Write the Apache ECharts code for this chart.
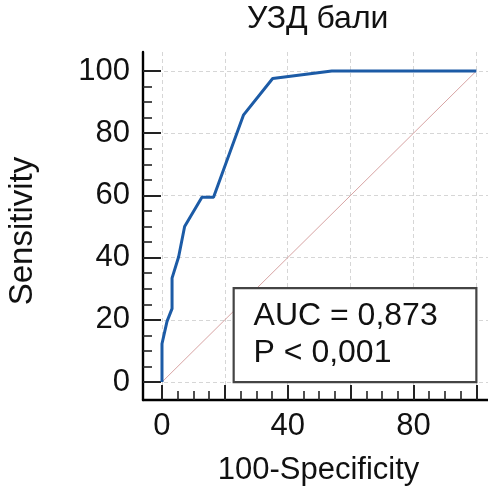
<!DOCTYPE html>
<html>
<head>
<meta charset="utf-8">
<script src="https://cdn.jsdelivr.net/npm/echarts@6/dist/echarts.min.js"></script>
<style>
  html, body { margin: 0; padding: 0; background: #ffffff; }
  #chart { width: 488px; height: 493px; }
</style>
</head>
<body>
<div id="chart"></div>
<script>
// ---- data ----
const titleText = 'УЗД бали';
const xName = '100-Specificity';
const yName = 'Sensitivity';
const fpr = [0, 0, 1.6, 3.2, 3.2, 5.3, 7.2, 12.7, 16.4, 25.9, 35.2, 54.0, 100];
const tpr = [0, 12.3, 19.5, 23.6, 33.4, 40.3, 50.0, 59.4, 59.4, 85.8, 97.6, 100, 100];
const refX = [0, 100];
const refY = [0, 100];
const xMajor = [0, 20, 40, 60, 80, 100];
const xLabels = [0, 40, 80];
const yMajor = [0, 20, 40, 60, 80, 100];
const yLabels = [0, 20, 40, 60, 80, 100];
const minorTicks = [5, 10, 15, 25, 30, 35, 45, 50, 55, 65, 70, 75, 85, 90, 95];
const boxText = ['AUC = 0,873', 'P < 0,001'];
const boxFrom = [22.8, 0];
const boxTo = [100, 30.2];

// ---- chart ----
const FONT = 'Liberation Sans, Arial, sans-serif';
const chart = echarts.init(document.getElementById('chart'), null, { renderer: 'canvas' });

const xRange = { min: -6.04, max: 103.7 };
const yRange = { min: -5.77, max: 106.1 };

const option = {
  backgroundColor: '#ffffff',
  animation: false,
  textStyle: { fontFamily: FONT },
  title: {
    text: titleText,
    left: 247,
    top: 3,
    padding: 0,
    textStyle: { fontFamily: FONT, fontSize: 32, fontWeight: 'normal', color: '#111' }
  },
  grid: { left: 143, right: 0, top: 52, bottom: 93, containLabel: false, outerBoundsMode: 'none' },
  xAxis: [
    {
      type: 'value', gridIndex: 0, position: 'bottom',
      min: xRange.min, max: xRange.max,
      name: xName, nameLocation: 'middle', nameGap: 55,
      nameTextStyle: { fontFamily: FONT, fontSize: 31, color: '#111', padding: [0, 0, 0, 6] },
      axisLine: { show: true, onZero: false, lineStyle: { color: '#000', width: 2.4 } },
      axisTick: { show: true, inside: true, length: 15, customValues: xMajor, lineStyle: { color: '#222', width: 2 } },
      axisLabel: { show: true, customValues: xLabels, margin: 11, fontFamily: FONT, fontSize: 31, color: '#111' },
      splitLine: { show: true, lineStyle: { color: '#d6d6d6', width: 1, type: [4, 3] } }
    },
    {
      type: 'value', gridIndex: 0, position: 'bottom',
      min: xRange.min, max: xRange.max,
      axisLine: { show: false, onZero: false },
      axisTick: { show: true, inside: true, length: 9, customValues: minorTicks, lineStyle: { color: '#222', width: 1.6 } },
      axisLabel: { show: false },
      splitLine: { show: false }
    }
  ],
  yAxis: [
    {
      type: 'value', gridIndex: 0, position: 'left',
      min: yRange.min, max: yRange.max,
      name: yName, nameLocation: 'middle', nameGap: 104, nameRotate: 90,
      nameTextStyle: { fontFamily: FONT, fontSize: 33, color: '#111', padding: [0, 10, 0, 0] },
      axisLine: { show: true, onZero: false, lineStyle: { color: '#000', width: 2.4 } },
      axisTick: { show: true, inside: true, length: 18, customValues: yMajor, lineStyle: { color: '#222', width: 2 } },
      axisLabel: { show: true, customValues: yLabels, margin: 13, fontFamily: FONT, fontSize: 31, color: '#111' },
      splitLine: { show: true, lineStyle: { color: '#d6d6d6', width: 1, type: [4, 3] } }
    },
    {
      type: 'value', gridIndex: 0, position: 'left',
      min: yRange.min, max: yRange.max,
      axisLine: { show: false, onZero: false },
      axisTick: { show: true, inside: true, length: 9, customValues: minorTicks, lineStyle: { color: '#222', width: 1.6 } },
      axisLabel: { show: false },
      splitLine: { show: false }
    }
  ],
  series: [
    {
      type: 'line', name: 'reference', xAxisIndex: 0, yAxisIndex: 0,
      data: refX.map((x, i) => [x, refY[i]]),
      symbol: 'none', z: 1,
      lineStyle: { color: '#d8a4a4', width: 1 }
    },
    {
      type: 'line', name: 'box', xAxisIndex: 0, yAxisIndex: 0,
      data: [], symbol: 'none', z: 3,
      markArea: {
        silent: true, z: 3,
        itemStyle: { color: '#ffffff', borderColor: '#444444', borderWidth: 2.2 },
        label: {
          show: true, position: 'insideLeft', distance: 21,
          formatter: boxText.join('\n'),
          fontFamily: FONT, fontSize: 32, lineHeight: 37, color: '#111', align: 'left'
        },
        data: [[{ coord: boxFrom }, { coord: boxTo }]]
      }
    },
    {
      type: 'line', name: 'ROC', xAxisIndex: 0, yAxisIndex: 0,
      data: fpr.map((x, i) => [x, tpr[i]]),
      symbol: 'none', z: 4,
      lineStyle: { color: '#1c5ba6', width: 3 }
    }
  ]
};
chart.setOption(option);
</script>
</body>
</html>
